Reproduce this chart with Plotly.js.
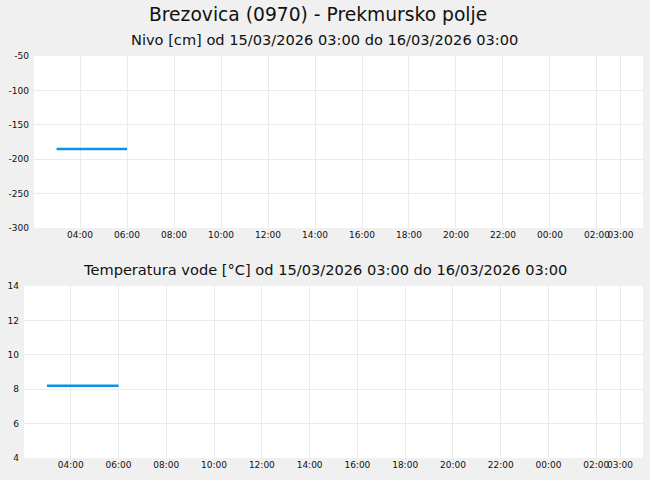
<!DOCTYPE html>
<html>
<head>
<meta charset="utf-8">
<script src="https://cdn.plot.ly/plotly-3.0.1.min.js"></script>
<style>
  html, body { margin: 0; padding: 0; background: #f0f0f0; }
  #plot { width: 650px; height: 480px; }
</style>
</head>
<body>
<div id="plot"></div>
<script>
// measurement times (15/03/2026)
const times = ['2026-03-15 03:00', '2026-03-15 04:00', '2026-03-15 05:00', '2026-03-15 06:00'];
const nivo = [-185, -185, -185, -185];
const temperatura = [8.2, 8.2, 8.2, 8.2];

const tickVals = ['2026-03-15 04:00', '2026-03-15 06:00', '2026-03-15 08:00', '2026-03-15 10:00',
    '2026-03-15 12:00', '2026-03-15 14:00', '2026-03-15 16:00', '2026-03-15 18:00',
    '2026-03-15 20:00', '2026-03-15 22:00', '2026-03-16 00:00', '2026-03-16 02:00', '2026-03-16 03:00'];
const tickText = ['04:00', '06:00', '08:00', '10:00', '12:00', '14:00', '16:00', '18:00',
    '20:00', '22:00', '00:00', '02:00', '03:00'];
const nivoTicks = [-300, -250, -200, -150, -100, -50];
const nivoTickText = ['-300', '-250', '-200', '-150', '-100', '-50'];
const tempTicks = [4, 6, 8, 10, 12, 14];

const xRange = ['2026-03-15 02:02:24', '2026-03-16 03:57:36'];
const lineColor = '#0a93e6';
const gridColor = '#ebebeb';
const tickFont = { family: 'DejaVu Sans', size: 9, color: '#111' };

const baseX = {
    type: 'date',
    range: xRange,
    tickmode: 'array',
    tickvals: tickVals,
    ticktext: tickText,
    tickangle: 0,
    tickfont: tickFont,
    showgrid: true,
    gridcolor: gridColor,
    zeroline: false,
    showline: false,
    ticks: ''
};

const baseY = {
    tickfont: tickFont,
    tickmode: 'array',
    ticklabelstandoff: 4,
    showgrid: true,
    gridcolor: gridColor,
    zeroline: false,
    showline: false,
    ticks: ''
};

const traces = [
    {
        x: times, y: nivo, type: 'scatter', mode: 'lines',
        line: { color: lineColor, width: 2.5 },
        xaxis: 'x', yaxis: 'y', hoverinfo: 'skip'
    },
    {
        x: times, y: temperatura, type: 'scatter', mode: 'lines',
        line: { color: lineColor, width: 2.5 },
        xaxis: 'x2', yaxis: 'y2', hoverinfo: 'skip'
    }
];

const layout = {
    width: 650,
    height: 480,
    margin: { l: 0, r: 0, t: 0, b: 0 },
    paper_bgcolor: '#f0f0f0',
    plot_bgcolor: '#ffffff',
    showlegend: false,
    font: { family: 'DejaVu Sans', color: '#111' },
    xaxis: Object.assign({}, baseX, { domain: [34 / 650, 643 / 650], anchor: 'y' }),
    yaxis: Object.assign({}, baseY, {
        domain: [252 / 480, 424 / 480], range: [-300, -50],
        tickvals: nivoTicks, ticktext: nivoTickText, anchor: 'x'
    }),
    xaxis2: Object.assign({}, baseX, { domain: [24 / 650, 643 / 650], anchor: 'y2' }),
    yaxis2: Object.assign({}, baseY, {
        domain: [22 / 480, 194 / 480], range: [4, 14],
        tickvals: tempTicks, anchor: 'x2'
    }),
    annotations: [
        {
            text: 'Brezovica (0970) - Prekmursko polje',
            xref: 'paper', yref: 'paper', x: 318 / 650, y: 1 - 14 / 480,
            xanchor: 'center', yanchor: 'middle', showarrow: false,
            font: { family: 'DejaVu Sans', size: 18.7, color: '#111' }
        },
        {
            text: 'Nivo [cm] od 15/03/2026 03:00 do 16/03/2026 03:00',
            xref: 'paper', yref: 'paper', x: 324 / 650, y: 1 - 39 / 480,
            xanchor: 'center', yanchor: 'middle', showarrow: false,
            font: { family: 'DejaVu Sans', size: 14.6, color: '#111' }
        },
        {
            text: 'Temperatura vode [°C] od 15/03/2026 03:00 do 16/03/2026 03:00',
            xref: 'paper', yref: 'paper', x: 325 / 650, y: 1 - 269 / 480,
            xanchor: 'center', yanchor: 'middle', showarrow: false,
            font: { family: 'DejaVu Sans', size: 14.6, color: '#111' }
        }
    ]
};

Plotly.newPlot('plot', traces, layout, { displayModeBar: false, staticPlot: true });
</script>
</body>
</html>
